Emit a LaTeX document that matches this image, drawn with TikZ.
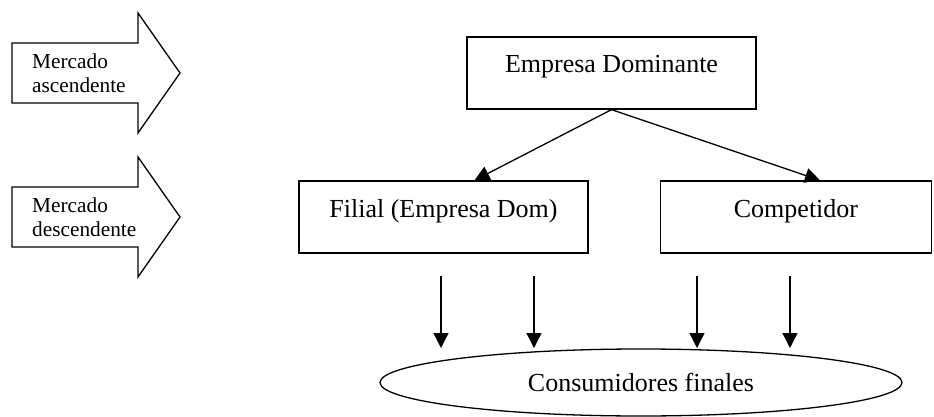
\documentclass[tikz,border=0pt]{standalone}
\usepackage{fontspec}
\setmainfont{Liberation Serif}
\usetikzlibrary{arrows.meta,shapes.geometric}

\begin{document}
\begin{tikzpicture}[x=1pt,y=-1pt,
boxnode/.style={draw=black, line width=1.3pt, minimum width=289pt, minimum height=72pt, inner sep=0pt, text height=9pt, text depth=9pt, font=\fontsize{26}{30}\selectfont},
ovalnode/.style={ellipse, draw=black, line width=1.3pt, minimum width=522pt, minimum height=67pt, inner sep=0pt, font=\fontsize{26}{30}\selectfont},
marketnode/.style={align=left, anchor=west, inner sep=0pt, font=\fontsize{21.3}{24.5}\selectfont},
flecha/.style={-{Triangle[length=15pt,width=15pt]}, line width=1.3pt}
]
    \useasboundingbox (0,0) rectangle (934,417);

    % big arrows on the left
    \draw[line width=1.3pt] (12,43) -- (138,43) -- (138,13) -- (180,73) -- (138,133) -- (138,103) -- (12,103) -- cycle;
    \draw[line width=1.3pt] (12,187) -- (138,187) -- (138,157) -- (180,217) -- (138,277) -- (138,247) -- (12,247) -- cycle;
    \node[marketnode] (ascendente) at (32,73) {Mercado\\ascendente};
    \node[marketnode] (descendente) at (32,217) {Mercado\\descendente};

    \node[boxnode] (dominante) at (611.5,73) {Empresa Dominante};
    \node[boxnode] (filial) at (443.5,217) {Filial (Empresa Dom)};
    \node[boxnode,minimum width=271pt] (competidor) at (796,217) {Competidor};
    \node[ovalnode] (consumidores) at (641,382.5) {Consumidores finales};

    \draw[flecha] (dominante.south) -- ([xshift=31pt]filial.north);
    \draw[flecha] (dominante.south) -- ([xshift=24pt]competidor.north);

    % arrows down to the consumers
    \coordinate (f1) at (441,276);
    \coordinate (f2) at (534,276);
    \coordinate (c1) at (697,276);
    \coordinate (c2) at (790,276);
    \draw[flecha] (f1) -- ++(0,72);
    \draw[flecha] (f2) -- ++(0,72);
    \draw[flecha] (c1) -- ++(0,72);
    \draw[flecha] (c2) -- ++(0,72);
\end{tikzpicture}
\end{document}
